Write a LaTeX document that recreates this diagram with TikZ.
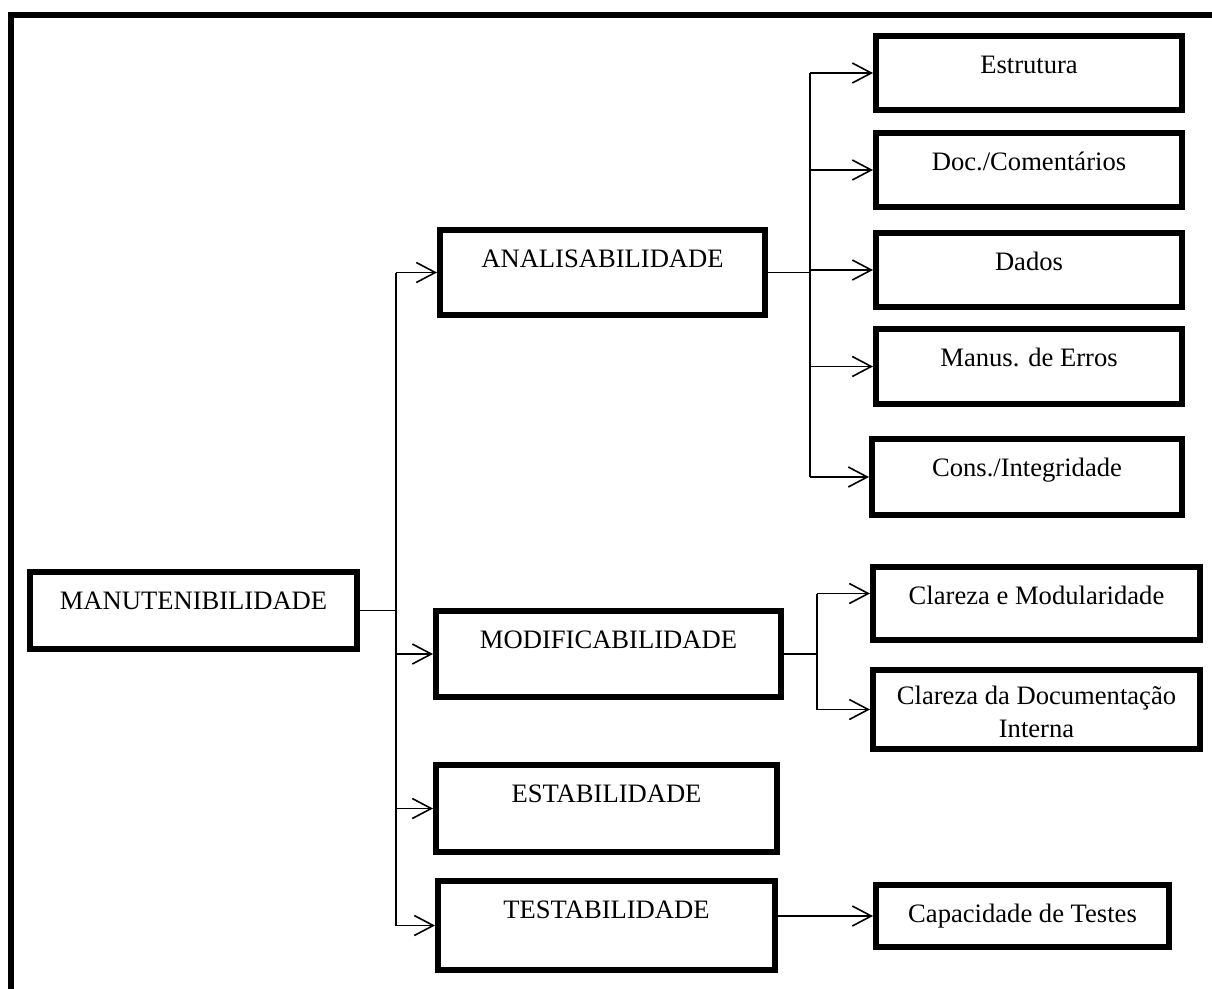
\documentclass[tikz,border=0pt]{standalone}
\usepackage{fontspec}
\setmainfont{Liberation Serif}
\usetikzlibrary{arrows.meta,calc}

% box by its outer edges: name, left, top, right, bottom, text,
% offset of the (last) text baseline below the top edge
\newcommand\qbox[7]{%
  \node[box, minimum width={#4-#2-6}, minimum height={#5-#3-6}]
    (#1) at ({(#2+#4)/2},{(#3+#5)/2}) {};
  \node[lbl] (#1-t) at ({(#2+#4)/2},{#3+#7}) {#6};
}

\begin{document}
\begin{tikzpicture}[x=1pt,y=-1pt,
  box/.style={draw, line width=6pt, inner sep=0pt},
  lbl/.style={anchor=base, inner sep=0pt, align=center,
    font=\fontsize{26.6}{33}\selectfont},
  conn/.style={line width=1.6pt},
  arr/.style={conn, -{Straight Barb[length=19pt,width=20pt]}}]
\useasboundingbox (0,0) rectangle (1212,988);
\clip (0,0) rectangle (1212,988);

% outer frame (top and left sides)
\draw[line width=6pt] (1240,15) -- (11,15) -- (11,1010);

% first level
\qbox{manut}{27}{569}{360}{652}{MANUTENIBILIDADE}{40}

% second level
\qbox{analis}{437}{227}{768}{318}{ANALISABILIDADE}{40}
\qbox{modif}{433}{608}{784}{700}{MODIFICABILIDADE}{40}
\qbox{estab}{433}{762}{780}{855}{ESTABILIDADE}{40}
\qbox{test}{435}{878}{778}{973}{TESTABILIDADE}{40}

% third level
\qbox{estr}{873}{33}{1185}{113}{Estrutura}{40}
\qbox{doc}{873}{130}{1185}{210}{Doc./Comentários}{40}
\qbox{dados}{873}{230}{1185}{310}{Dados}{40}
\qbox{manus}{873}{326}{1185}{407}{Manus. de Erros}{40}
\qbox{cons}{869}{436}{1185}{518}{Cons./Integridade}{40}
\qbox{clar1}{870}{564}{1203}{643}{Clareza e Modularidade}{40}
\qbox{clar2}{870}{667}{1203}{752}{Clareza da Documentação\\Interna}{70}
\qbox{capac}{873}{882}{1172}{950}{Capacidade de Testes}{40}

% trunk positions
\coordinate (ltr) at (396,0);
\coordinate (rtr) at (810,0);
\coordinate (mtr) at (817,0);

% MANUTENIBILIDADE -> second level
\draw[conn] (manut.east) -- (manut.east -| ltr);
\draw[conn] (ltr |- analis.west) -- (ltr |- test.west);
\foreach \b in {analis,modif,estab,test}
  \draw[arr] (ltr |- \b.west) -- (\b.west);

% ANALISABILIDADE -> sub-characteristics
\draw[conn] (analis.east) -- (analis.east -| rtr);
\draw[conn] (rtr |- estr.west) -- (rtr |- cons.west);
\foreach \b in {estr,doc,dados,manus,cons}
  \draw[arr] (rtr |- \b.west) -- (\b.west);

% MODIFICABILIDADE -> sub-characteristics
\coordinate (c1in) at ($(clar1.west)+(0,-10)$);
\draw[conn] (modif.east) -- (modif.east -| mtr);
\draw[conn] (mtr |- c1in) -- (mtr |- clar2.west);
\draw[arr] (mtr |- c1in) -- (c1in);
\draw[arr] (mtr |- clar2.west) -- (clar2.west);

% TESTABILIDADE -> Capacidade de Testes
\draw[arr] (test.east |- capac.west) -- (capac.west);
\end{tikzpicture}
\end{document}
